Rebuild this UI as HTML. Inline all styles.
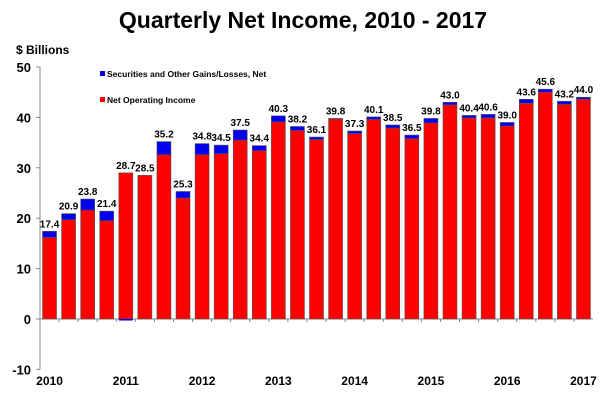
<!DOCTYPE html>
<html><head><meta charset="utf-8"><style>
body{margin:0;background:#fff;width:607px;height:403px;overflow:hidden;font-family:"Liberation Sans",Arial,sans-serif}
</style></head><body>
<svg width="607" height="403" id="chart">
<text x="303" y="28" text-anchor="middle" font-size="23" font-weight="bold">Quarterly Net Income, 2010 - 2017</text>
<text x="16" y="54" font-size="12" font-weight="bold">$ Billions</text>
<g>
<rect x="100" y="71" width="5" height="5" fill="#0000ee"/>
<text x="107" y="77" font-size="8.5" font-weight="bold">Securities and Other Gains/Losses, Net</text>
<rect x="100" y="97" width="5" height="5" fill="#ff0000"/>
<text x="107" y="103" font-size="8.5" font-weight="bold">Net Operating Income</text>
</g>
<g id="plot"></g>
</svg>
<script>
const categories=["2010Q1","2010Q2","2010Q3","2010Q4","2011Q1","2011Q2","2011Q3","2011Q4","2012Q1","2012Q2","2012Q3","2012Q4","2013Q1","2013Q2","2013Q3","2013Q4","2014Q1","2014Q2","2014Q3","2014Q4","2015Q1","2015Q2","2015Q3","2015Q4","2016Q1","2016Q2","2016Q3","2016Q4","2017Q1"];
const operating=[16.2,19.7,21.6,19.5,29.0,28.5,32.6,24.0,32.6,32.8,35.5,33.4,39.1,37.4,35.6,39.7,36.8,39.6,37.9,35.8,38.9,42.5,39.9,39.9,38.3,42.8,45.0,42.6,43.6];
const securities=[1.2,1.2,2.2,1.9,-0.3,0,2.6,1.3,2.2,1.7,2.0,1.0,1.2,0.8,0.5,0.1,0.5,0.5,0.6,0.7,0.9,0.5,0.5,0.7,0.7,0.8,0.6,0.6,0.4];
const totalLabels=["17.4","20.9","23.8","21.4","28.7","28.5","35.2","25.3","34.8","34.5","37.5","34.4","40.3","38.2","36.1","39.8","37.3","40.1","38.5","36.5","39.8","43.0","40.4","40.6","39.0","43.6","45.6","43.2","44.0"];
const yTicks=[-10,0,10,20,30,40,50];
const xLabels=["2010","2011","2012","2013","2014","2015","2016","2017"];

const NS="http://www.w3.org/2000/svg";
const g=document.getElementById('plot');
const X0=40,X1=593,Y0=319,PER10=50.4;
const slot=(X1-X0)/categories.length;
const y=v=>Y0-v*PER10/10;
const xc=i=>X0+(i+0.5)*slot;
function mk(t,a){const e=document.createElementNS(NS,t);for(const k in a)e.setAttribute(k,a[k]);g.appendChild(e);return e;}
// axes
let ax=mk('line',{x1:X0,x2:X0,y1:y(50),y2:y(-10),stroke:'#888','stroke-width':1});


let bx=mk('line',{x1:X0,x2:X1,y1:Y0,y2:Y0,stroke:'#888','stroke-width':1});


yTicks.forEach(v=>{
 let t=mk('line',{x1:X0-4,x2:X0,y1:y(v),y2:y(v),stroke:'#888'});
 
 
 let l=mk('text',{x:X0-9,y:y(v)+5,'text-anchor':'end','font-size':13,'font-weight':'bold'});
 l.textContent=v;
 
 
});
categories.forEach((c,i)=>{
 const w=14,x=xc(i)-w/2;
 let t=mk('line',{x1:X0+i*slot,x2:X0+i*slot,y1:Y0,y2:Y0+3,stroke:'#888'});
 
 
 let r=mk('rect',{x:x,y:y(operating[i]),width:w,height:y(0)-y(operating[i]),fill:'#ff0000',stroke:'#555','stroke-width':0.6});
 
 
 const s=securities[i];
 if(s>0){
  let b=mk('rect',{x:x,y:y(operating[i]+s),width:w,height:y(operating[i])-y(operating[i]+s),fill:'#0000ee',stroke:'#555','stroke-width':0.6});
  
  
 } else if(s<0){
  let b=mk('rect',{x:x,y:y(0),width:w,height:y(s)-y(0),fill:'#0000ee'});
  
  
 }
 const top=Math.max(operating[i]+Math.max(s,0),operating[i]);
 let l=mk('text',{x:xc(i),y:y(top)-4,'text-anchor':'middle','font-size':10,'font-weight':'bold'});
 l.textContent=totalLabels[i];
 
 
});
xLabels.forEach((t,k)=>{
 let l=mk('text',{x:xc(k*4),y:Y0+66,'text-anchor':'middle','font-size':12,'font-weight':'bold'});
 l.textContent=t;
 
 
});
</script>
</body></html>
